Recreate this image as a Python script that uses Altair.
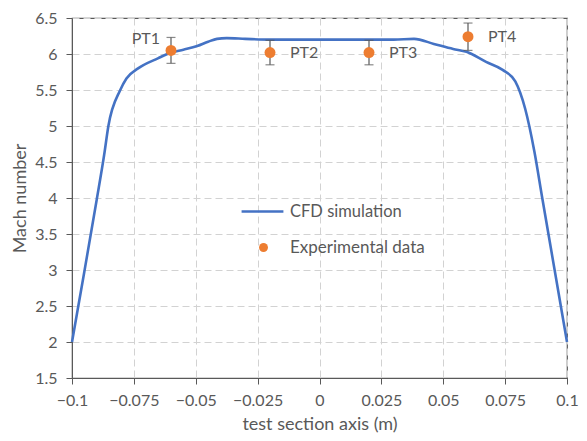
import altair as alt
import pandas as pd

# CFD curve
cfd_x = [-0.1, -0.095, -0.09, -0.087, -0.0853, -0.0805, -0.078, -0.0733, -0.0653, -0.06,
         -0.055, -0.0494, -0.045, -0.0414, -0.0375, -0.03, -0.02, 0.0, 0.02, 0.03,
         0.0382, 0.0462, 0.054, 0.0594, 0.0673, 0.074, 0.0791, 0.0831, 0.0868, 0.09,
         0.095, 0.1]
cfd_y = [2.0, 2.98, 3.98, 4.6, 5.0, 5.5, 5.66, 5.8, 5.94, 6.02,
         6.06, 6.11, 6.17, 6.21, 6.22, 6.21, 6.2, 6.2, 6.2, 6.2,
         6.21, 6.14, 6.07, 6.03, 5.89, 5.78, 5.62, 5.24, 4.65, 4.0,
         3.0, 2.0]

# Experimental data
pt_names = ["PT1", "PT2", "PT3", "PT4"]
pt_x = [-0.06, -0.02, 0.02, 0.06]
pt_y = [6.05, 6.02, 6.02, 6.24]
pt_err = [0.18, 0.17, 0.17, 0.19]
pt_align = ["right", "left", "left", "left"]

x_ticks = [-0.1, -0.075, -0.05, -0.025, 0, 0.025, 0.05, 0.075, 0.1]
y_ticks = [1.5, 2, 2.5, 3, 3.5, 4, 4.5, 5, 5.5, 6, 6.5]

FONT = "Lato"
TXT = "#595959"

cfd = pd.DataFrame({"x": cfd_x, "y": cfd_y, "series": "CFD simulation"})
pts = pd.DataFrame({"x": pt_x, "y": pt_y, "name": pt_names,
                    "lo": [y - e for y, e in zip(pt_y, pt_err)],
                    "hi": [y + e for y, e in zip(pt_y, pt_err)],
                    "align": pt_align, "series": "Experimental data"})

xscale = alt.Scale(domain=[-0.1, 0.1], nice=False, zero=False)
yscale = alt.Scale(domain=[1.5, 6.5], nice=False, zero=False)

grid_kw = dict(grid=True, gridColor="#d2d2d2", gridDash=[7, 4], gridWidth=1, gridOpacity=1,
               labelOverlap=False, labelFlush=False, labelFont=FONT, titleFont=FONT,
               labelFontSize=16, titleFontSize=18, labelColor=TXT, titleColor=TXT,
               titleFontWeight="normal", domainColor="#595959", tickColor="#595959",
               tickSize=6, zindex=0)

xaxis = alt.Axis(values=x_ticks, title="test section axis (m)",
                 labelExpr="datum.value == 0 ? '0' : format(datum.value, '~g')",
                 labelPadding=8, titlePadding=7, **grid_kw)
yaxis = alt.Axis(values=y_ticks, title="Mach number", format="~g",
                 labelPadding=9, titlePadding=5, **grid_kw)

X = alt.X("x:Q", scale=xscale, axis=xaxis)

line = alt.Chart(cfd).mark_line(strokeWidth=2.6, interpolate="monotone").encode(
    x=X,
    y=alt.Y("y:Q", scale=yscale, axis=yaxis),
    color=alt.Color("series:N", scale=alt.Scale(range=["#4472C4"]),
                    legend=alt.Legend(title=None, orient="none", legendX=168, legendY=171,
                                      symbolType="stroke", symbolSize=1750,
                                      symbolStrokeWidth=2.6, labelFontSize=16.5,
                                      labelFont=FONT, labelColor=TXT, labelOffset=5)),
    order=alt.Order("x:Q"),
)

err = alt.Chart(pts).mark_errorbar(ticks=alt.TickConfig(size=9, thickness=1.2, color="#595959"),
                                   rule=alt.LineConfig(strokeWidth=1.2, color="#595959"),
                                   color="#595959").encode(
    x=X,
    y=alt.Y("lo:Q", scale=yscale, axis=yaxis),
    y2="hi:Q",
)

dots = alt.Chart(pts).mark_point(filled=True, size=120, opacity=1).encode(
    x=X,
    y=alt.Y("y:Q", scale=yscale, axis=yaxis),
    fill=alt.Fill("series:N", scale=alt.Scale(range=["#ED7D31"]),
                  legend=alt.Legend(title=None, orient="none", legendX=183, legendY=221,
                                    symbolType="circle", symbolSize=80, labelFontSize=17,
                                    labelFont=FONT, labelColor=TXT, labelOffset=18)),
)

lab_r = alt.Chart(pts[pts["align"] == "right"]).mark_text(
    align="right", dx=-11, dy=-11, fontSize=16, font=FONT, color=TXT).encode(
    x=X, y=alt.Y("y:Q", scale=yscale, axis=yaxis), text="name:N")
lab_l = alt.Chart(pts[pts["align"] == "left"]).mark_text(
    align="left", dx=20, dy=0, fontSize=16, font=FONT, color=TXT).encode(
    x=X, y=alt.Y("y:Q", scale=yscale, axis=yaxis), text="name:N")

chart = alt.layer(line, err, dots, lab_r, lab_l).resolve_scale(
    color="independent", fill="independent"
).properties(
    width=495, height=360,
    padding={"left": 3, "top": 2, "right": 0, "bottom": 0},
).configure_view(
    stroke="#595959", strokeWidth=1.2
)

chart.save("out.html", embed_options={"renderer": "svg", "actions": False})
